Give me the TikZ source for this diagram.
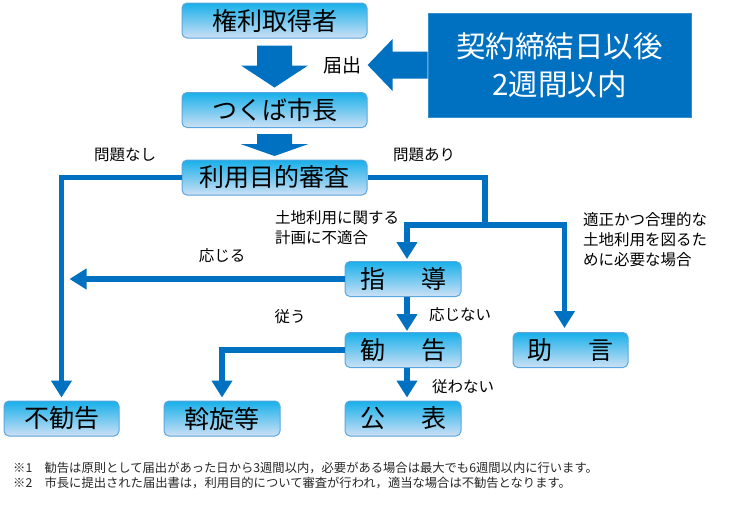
\documentclass[tikz,border=0pt]{standalone}
\usepackage{fontspec}
\newfontfamily\jp{Noto Sans CJK JP}
\usetikzlibrary{arrows.meta,calc}
\definecolor{mainblue}{RGB}{0,112,192}
\definecolor{boxtop}{RGB}{24,176,234}
\definecolor{boxbot}{RGB}{204,224,245}
\definecolor{boxline}{RGB}{90,166,222}
\begin{document}
\begin{tikzpicture}[x=1pt,y=-1pt,
  box/.style={rectangle, rounded corners=5pt, draw=boxline, line width=1pt,
    top color=boxtop, bottom color=boxbot, inner sep=0pt, text=black,
    font=\jp\fontsize{25}{25}\selectfont, minimum height=35pt},
  conn/.style={draw=mainblue, line width=5.5pt, line join=miter},
  arr/.style={conn, -{Triangle[width=20pt,length=17pt]}, shorten >=3pt},
  lbl/.style={font=\jp\fontsize{15.5}{20}\selectfont, inner sep=0pt, text=black},
  note/.style={font=\jp\fontsize{12.3}{14}\selectfont, inner sep=0pt, anchor=west, text=black!85}]
\useasboundingbox (0,0) rectangle (731,504);

% boxes
\node[box, minimum width=185pt] (A) at (274.5,20.5) {権利取得者};
\node[box, minimum width=185pt] (B) at (274.5,110) {つくば市長};
\node[box, minimum width=185pt] (C) at (274.5,177.5) {利用目的審査};
\node[box, minimum width=116pt] (D) at (403,279) {指\hspace{36pt}導};
\node[box, minimum width=116pt] (E) at (403,350) {勧\hspace{36pt}告};
\node[box, minimum width=116pt] (F) at (403,418.5) {公\hspace{36pt}表};
\node[box, minimum width=115pt] (G) at (570.5,350) {助\hspace{36pt}言};
\node[box, minimum width=115pt] (H) at (61.5,418.5) {不勧告};
\node[box, minimum width=116pt] (I) at (222,418.5) {斡旋等};
\node[rectangle, fill=mainblue, draw=mainblue!80!white, line width=0.8pt,
  minimum width=263pt, minimum height=104pt, inner sep=0pt, align=center,
  text=white, font=\jp\fontsize{29.5}{38}\selectfont] (K) at (559.5,65)
  {契約締結日以後\\2週間以内};

% fat arrows
\fill[mainblue] ($(A.south)+(-17.5,7)$) -- ($(A.south)+(17.5,7)$) -- ($(A.south)+(17.5,27)$)
  -- ($(A.south)+(33.5,27)$) -- ($(A.south)+(0,49)$) -- ($(A.south)+(-33.5,27)$)
  -- ($(A.south)+(-17.5,27)$) -- cycle;
\fill[mainblue] ($(B.south)+(-17.5,6)$) -- ($(B.south)+(17.5,6)$) -- ($(B.south)+(17.5,16)$)
  -- ($(B.south)+(34,16)$) -- ($(B.south)+(0,28)$) -- ($(B.south)+(-34,16)$)
  -- ($(B.south)+(-17.5,16)$) -- cycle;
\fill[mainblue] ($(K.west)+(0,-13.5)$) -- ($(K.west)+(-35,-13.5)$) -- ($(K.west)+(-35,-26)$)
  -- ($(K.west)+(-60,0)$) -- ($(K.west)+(-35,26)$) -- ($(K.west)+(-35,13.5)$)
  -- ($(K.west)+(0,13.5)$) -- cycle;

% connectors
\coordinate (J) at (485,225);
\draw[arr] (C.west) -| (H.north);
\draw[conn] (C.east) -| (J);
\draw[conn, {Triangle[width=20pt,length=17pt]}-{Triangle[width=20pt,length=17pt]}, shorten <=2pt, shorten >=4pt]
  ($(D.north)+(4,0)$) |- (J) -| ($(G.north)+(-6,0)$);
\draw[arr, shorten >=0pt] (D.west) -- ($(D.west -| H.north)+(8,0)$);
\draw[arr, shorten >=1pt] ($(D.south)+(4,0)$) -- ($(E.north)+(4,0)$);
\draw[arr] ($(E.south)+(4,0)$) -- ($(F.north)+(4,0)$);
\draw[arr] (E.west) -| (I.north);

% labels
\node[lbl, font=\jp\fontsize{19}{19}\selectfont] (L0) at (342,65) {届出};
\node[lbl] (L1) at (125,155) {問題なし};
\node[lbl] (L2) at (424,155) {問題あり};
\node[lbl, align=left, anchor=west] (L3) at (275,228) {土地利用に関する\\計画に不適合};
\node[lbl, align=left, anchor=west] (L4) at (583,240) {適正かつ合理的な\\土地利用を図るた\\めに必要な場合};
\node[lbl] (L5) at (222,256) {応じる};
\node[lbl] (L6) at (290,317) {従う};
\node[lbl] (L7) at (460,315) {応じない};
\node[lbl] (L8) at (463,387) {従わない};

% notes
\node[note] (N1) at (13,468) {※1　勧告は原則として届出があった日から3週間以内，必要がある場合は最大でも6週間以内に行います。};
\node[note] (N2) at (13,483) {※2　市長に提出された届出書は，利用目的について審査が行われ，適当な場合は不勧告となります。};
\end{tikzpicture}
\end{document}
